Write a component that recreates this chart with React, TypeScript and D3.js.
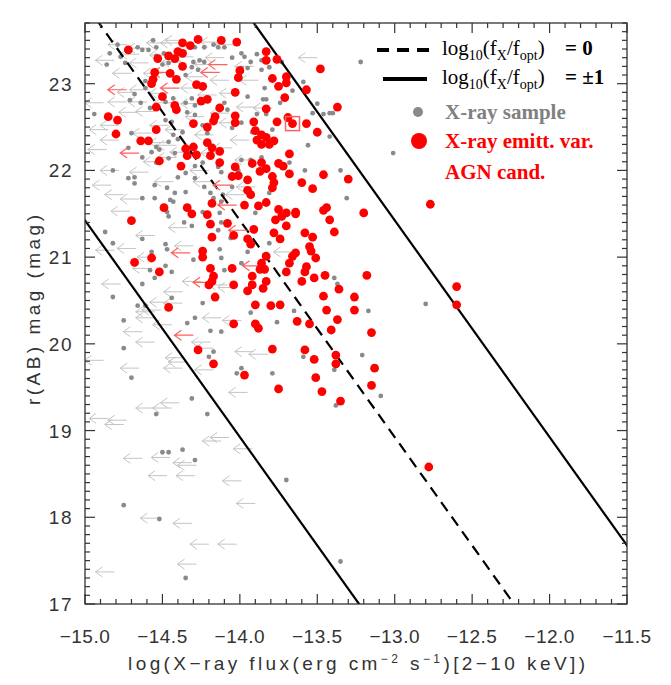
import React from 'react'
import * as d3 from 'd3'

// r-band mag vs log 2-10 keV flux. All pairs are [log fX, r(AB)].
// Upper limits are stored at the limit value; the arrow points left from it.

const agnCandidates: [number, number][] = [
  [-14.72, 23.39], [-14.37, 23.47], [-14.32, 23.44], [-14.27, 23.51], [-14.12, 23.5], [-14.02, 23.48],
  [-14.46, 23.32], [-14.4, 23.37], [-14.37, 23.35], [-14.42, 23.29], [-14.53, 23.29], [-14.37, 23.2],
  [-14.0, 23.15], [-14.01, 23.07], [-14.55, 23.13], [-14.45, 23.12], [-14.56, 23.05], [-14.57, 23.0],
  [-14.41, 23.05], [-14.28, 22.99], [-14.24, 22.97], [-14.03, 22.9], [-14.5, 22.85], [-14.54, 22.73],
  [-14.42, 22.75], [-14.41, 22.7], [-14.25, 22.8], [-14.21, 22.82], [-14.13, 22.72], [-14.16, 22.62],
  [-14.17, 22.57], [-14.21, 22.5], [-14.3, 22.54], [-14.85, 22.62], [-14.79, 22.58], [-14.8, 22.42],
  [-14.03, 22.63], [-14.03, 22.55], [-14.54, 22.47], [-14.64, 22.34], [-14.59, 22.34], [-14.35, 22.25],
  [-14.3, 22.27], [-14.34, 22.17], [-14.28, 22.18], [-14.21, 22.32], [-14.18, 22.26], [-14.19, 22.17],
  [-14.13, 22.22], [-14.52, 22.11], [-14.38, 22.05], [-14.13, 22.09], [-14.03, 22.04], [-13.92, 22.08],
  [-14.05, 21.93], [-14.01, 21.94], [-13.95, 21.89], [-13.95, 21.77], [-13.93, 21.72],
  [-14.49, 21.57], [-14.34, 21.57], [-14.31, 21.5], [-14.7, 21.42], [-14.18, 21.62], [-14.21, 21.49],
  [-14.19, 21.38], [-14.08, 21.39], [-14.18, 21.23], [-13.97, 21.6], [-14.04, 21.25], [-13.95, 21.21],
  [-13.93, 21.15], [-14.24, 21.07], [-14.24, 21.0], [-14.68, 20.94], [-14.57, 20.99], [-14.52, 20.83],
  [-14.19, 20.87], [-14.05, 20.87], [-14.17, 20.78], [-14.18, 20.72], [-14.2, 20.68], [-14.04, 20.68],
  [-13.92, 20.78], [-13.92, 20.68], [-13.95, 20.61], [-14.16, 20.54], [-14.46, 20.42], [-13.9, 20.45],
  [-14.04, 20.23], [-14.27, 19.93], [-14.17, 19.77], [-13.97, 19.64],
  [-13.83, 23.37], [-13.83, 23.27], [-13.76, 23.28], [-13.48, 23.17], [-13.79, 23.06], [-13.7, 23.08],
  [-13.7, 23.01], [-13.75, 22.97], [-13.57, 22.93], [-13.71, 22.84], [-13.37, 22.73], [-13.83, 22.71],
  [-13.69, 22.61], [-13.66, 22.54], [-13.76, 22.56], [-13.57, 22.54], [-13.91, 22.56], [-13.9, 22.46],
  [-13.5, 22.44], [-13.86, 22.41], [-13.83, 22.38], [-13.78, 22.34], [-13.89, 22.35], [-13.86, 22.3],
  [-13.81, 22.3], [-13.68, 22.19], [-13.86, 22.09], [-13.83, 22.02], [-13.75, 22.08], [-13.72, 22.05],
  [-13.87, 21.99], [-13.68, 21.96], [-13.46, 21.95], [-13.3, 21.9], [-13.79, 21.93], [-13.78, 21.86],
  [-13.79, 21.8], [-13.6, 21.86], [-13.53, 21.79],
  [-13.88, 21.59], [-13.83, 21.63], [-13.75, 21.55], [-13.7, 21.51], [-13.73, 21.47], [-13.77, 21.43],
  [-13.64, 21.52], [-13.64, 21.5], [-13.46, 21.54], [-13.44, 21.57], [-13.42, 21.43], [-13.2, 21.51],
  [-13.7, 21.36], [-13.91, 21.32], [-13.78, 21.28], [-13.74, 21.21], [-13.58, 21.28], [-13.53, 21.23],
  [-13.39, 21.29], [-13.55, 21.12], [-13.54, 21.07], [-13.64, 21.05], [-13.66, 21.01], [-13.51, 20.99],
  [-13.83, 21.01], [-13.68, 20.93], [-13.86, 20.93], [-13.57, 20.89], [-13.58, 20.83], [-13.87, 20.86],
  [-13.84, 20.86], [-13.7, 20.83], [-13.45, 20.79], [-13.18, 20.79], [-13.52, 20.76], [-13.6, 20.72],
  [-13.83, 20.72], [-13.85, 20.64], [-13.36, 20.63], [-13.46, 20.55], [-13.26, 20.54], [-13.8, 20.44],
  [-13.74, 20.45], [-13.44, 20.39], [-13.26, 20.39], [-13.37, 20.28], [-13.63, 20.26], [-13.55, 20.23],
  [-13.9, 20.23], [-13.88, 20.18], [-13.41, 20.16], [-13.15, 20.13], [-13.79, 19.94], [-13.58, 19.93],
  [-13.38, 19.87], [-13.52, 19.82], [-13.38, 19.77], [-13.13, 19.72],
  [-13.75, 19.48], [-13.51, 19.61], [-13.47, 19.45], [-13.35, 19.34], [-13.15, 19.52],
  [-12.77, 21.61], [-12.6, 20.66], [-12.6, 20.45], [-12.78, 18.58],
]

const agnUpperLimits: [number, number][] = [
  [-14.73, 22.93], [-14.39, 22.95], [-14.13, 23.13], [-14.08, 23.22], [-14.44, 23.13], [-14.65, 22.2],
  [-14.05, 21.83], [-14.32, 21.05], [-14.18, 20.71], [-14.3, 20.1], [-14.02, 21.6], [-13.95, 21.31],
  [-13.86, 20.9],
]

const highlighted: [number, number][] = [[-13.66, 22.54]]

const xraySample: [number, number][] = [
  [-14.84, 23.35], [-14.79, 23.45], [-14.77, 23.31], [-14.74, 23.24], [-14.86, 23.22], [-14.66, 23.42],
  [-14.63, 23.39], [-14.59, 23.39], [-14.56, 23.5], [-14.54, 23.42], [-14.54, 23.32], [-14.5, 23.22],
  [-14.49, 23.35], [-14.29, 23.42], [-14.23, 23.42], [-14.17, 23.45], [-14.14, 23.42], [-14.1, 23.42],
  [-13.99, 23.35], [-13.97, 23.31], [-14.05, 23.3], [-14.23, 23.25], [-14.26, 23.27], [-14.3, 23.25],
  [-14.31, 23.19], [-14.27, 23.16], [-14.35, 23.1], [-14.46, 23.24], [-13.93, 23.25], [-13.95, 23.18],
  [-13.99, 23.18], [-14.61, 23.03], [-14.61, 22.95], [-14.68, 22.88], [-14.71, 22.81], [-14.64, 22.78],
  [-14.58, 22.72], [-14.48, 22.79], [-14.35, 22.78], [-14.31, 22.83], [-14.29, 22.75], [-14.34, 22.67],
  [-14.29, 22.64], [-14.43, 22.83], [-14.1, 22.78], [-14.08, 22.7], [-13.95, 22.85], [-14.05, 22.49],
  [-13.99, 22.55], [-13.92, 22.44], [-14.24, 22.52], [-14.21, 22.43], [-14.48, 22.58], [-14.44, 22.56],
  [-14.37, 22.44], [-14.43, 22.41], [-14.4, 22.36], [-14.54, 22.27], [-14.52, 22.24], [-14.46, 22.33],
  [-14.63, 22.15], [-14.57, 22.21], [-14.54, 22.09], [-14.72, 22.26], [-14.7, 22.43], [-14.94, 22.65],
  [-14.14, 22.04], [-14.12, 21.98], [-14.24, 22.09], [-14.29, 22.05], [-14.35, 21.97], [-14.4, 21.92],
  [-14.29, 21.91], [-14.68, 21.92], [-14.72, 21.91], [-14.68, 21.85], [-14.82, 22.0], [-14.55, 21.83],
  [-14.47, 21.8], [-14.42, 21.74], [-14.35, 21.75], [-14.23, 21.81], [-14.19, 21.74], [-14.11, 21.72],
  [-14.01, 22.0], [-13.99, 22.12], [-13.93, 22.12], [-14.35, 22.24], [-14.46, 22.14], [-14.42, 22.2],
  [-14.05, 21.81],
  [-13.22, 23.25], [-13.01, 22.2], [-13.42, 22.39], [-13.56, 22.29], [-13.35, 22.0], [-13.58, 22.0],
  [-13.31, 21.68], [-13.59, 23.02], [-13.66, 22.92], [-13.5, 22.77], [-13.53, 22.66], [-13.46, 22.65],
  [-13.42, 22.66], [-13.4, 22.66], [-13.84, 22.95], [-13.85, 22.82], [-13.83, 22.82], [-13.74, 22.78],
  [-13.89, 22.65], [-13.83, 22.65], [-13.79, 22.47], [-13.68, 22.09], [-13.86, 22.15], [-13.81, 21.74],
  [-13.89, 23.34], [-13.86, 23.27], [-13.86, 23.16], [-13.81, 23.19], [-13.73, 23.25],
  [-14.63, 21.68], [-14.55, 21.68], [-14.45, 21.66], [-14.43, 21.64], [-14.47, 21.52], [-14.46, 21.47],
  [-14.36, 21.4], [-14.31, 21.36], [-14.24, 21.52], [-14.17, 21.68], [-14.12, 21.64], [-14.13, 21.51],
  [-14.12, 21.4], [-14.14, 21.31], [-14.06, 21.22], [-13.95, 21.06], [-13.99, 20.93], [-14.87, 21.29],
  [-14.63, 21.21], [-14.82, 21.16], [-14.48, 21.15], [-14.47, 21.09], [-14.57, 21.06], [-14.3, 20.97],
  [-14.13, 21.09], [-14.12, 20.99], [-14.48, 20.9], [-14.55, 20.76], [-14.44, 20.83], [-14.63, 20.69],
  [-14.82, 20.54], [-14.66, 20.44], [-14.61, 20.44], [-14.44, 20.53], [-14.24, 20.47], [-14.75, 20.27],
  [-14.34, 20.24], [-14.29, 20.3], [-14.19, 20.15], [-14.12, 20.14], [-13.93, 20.36], [-14.75, 19.95],
  [-14.17, 19.91], [-14.2, 19.85], [-13.99, 19.72], [-14.02, 19.66], [-13.93, 20.7], [-14.1, 20.85],
  [-13.81, 21.16], [-14.58, 20.85],
  [-13.9, 21.51], [-13.39, 20.76], [-13.37, 20.69], [-13.65, 20.38], [-13.17, 20.38], [-13.76, 20.25],
  [-13.21, 19.87], [-13.59, 19.85], [-13.39, 19.7], [-13.79, 19.66],
  [-14.7, 19.61], [-14.31, 19.37], [-14.54, 19.19], [-14.21, 19.19], [-13.38, 19.29], [-13.09, 19.4],
  [-14.5, 18.75], [-14.46, 18.75], [-14.37, 18.78], [-14.29, 18.66], [-14.75, 18.14], [-14.52, 17.98],
  [-13.7, 18.43], [-13.35, 17.49], [-14.35, 17.3], [-12.8, 20.46],
]

const xrayUpperLimits: [number, number][] = [
  [-14.73, 23.45], [-14.6, 23.41], [-14.48, 23.47], [-14.39, 23.47], [-14.36, 23.5], [-14.13, 23.48],
  [-14.04, 23.45], [-14.65, 23.34], [-14.46, 23.33], [-14.3, 23.31], [-14.1, 23.3], [-14.59, 23.24],
  [-14.38, 23.25], [-14.17, 23.22], [-13.91, 23.2], [-14.7, 23.12], [-14.5, 23.12], [-14.23, 23.08],
  [-13.88, 23.04], [-14.67, 22.9], [-14.59, 22.93], [-14.46, 22.89], [-14.15, 22.87], [-14.01, 22.89],
  [-14.88, 22.78], [-14.73, 22.79], [-14.6, 22.79], [-14.43, 22.78], [-14.26, 22.77], [-13.9, 22.73],
  [-14.66, 22.67], [-14.55, 22.68], [-14.23, 22.62], [-14.07, 22.66], [-14.01, 22.55], [-14.78, 22.52],
  [-14.46, 22.52], [-14.36, 22.47], [-14.57, 22.43], [-14.17, 22.41], [-14.46, 22.32], [-14.41, 22.29],
  [-14.05, 22.26], [-14.5, 22.1], [-14.41, 22.15], [-14.33, 22.21], [-14.13, 22.2], [-13.91, 22.12],
  [-14.78, 22.0], [-14.59, 21.98], [-14.2, 22.0], [-14.83, 21.83], [-14.43, 21.87], [-14.18, 21.87],
  [-13.9, 21.81], [-13.97, 21.72], [-14.86, 22.24], [-13.5, 23.3], [-13.79, 22.72], [-13.66, 21.06],
  [-14.81, 23.27], [-14.85, 22.47], [-14.78, 22.35], [-14.75, 21.72], [-14.26, 22.95], [-14.07, 23.04],
  [-13.94, 22.35],
  [-14.65, 21.67], [-14.71, 21.53], [-14.34, 21.34], [-14.55, 21.25], [-14.81, 21.08], [-14.67, 21.1],
  [-14.54, 21.0], [-14.3, 21.13], [-14.57, 20.87], [-14.77, 20.69], [-14.25, 20.72], [-14.37, 20.6],
  [-14.08, 20.68], [-14.02, 20.65], [-14.37, 20.47], [-14.46, 20.48], [-14.55, 20.37], [-14.51, 20.39],
  [-14.55, 20.3], [-14.12, 20.3], [-13.99, 20.27], [-14.44, 20.22], [-14.63, 20.14], [-14.55, 20.02],
  [-14.19, 20.02], [-14.17, 19.95], [-13.91, 19.91], [-13.82, 19.88], [-14.36, 19.84], [-14.34, 19.79],
  [-14.88, 19.81], [-14.65, 19.72], [-14.37, 19.72], [-14.17, 19.7],
  [-14.55, 19.26], [-14.44, 19.26], [-14.39, 19.32], [-14.85, 19.14], [-14.75, 19.07], [-14.73, 19.12],
  [-14.12, 18.88], [-14.07, 18.92], [-13.92, 18.79], [-14.63, 18.68], [-14.45, 18.69], [-14.31, 18.63],
  [-14.28, 18.6], [-14.47, 18.48], [-14.29, 18.48], [-13.99, 18.42], [-13.9, 18.16], [-14.52, 17.99],
  [-14.31, 17.93], [-14.2, 17.69], [-14.02, 17.69], [-14.28, 17.46], [-14.81, 17.37], [-13.95, 19.44],
]

// log(fX/fopt) = log fX + r/2.5 + C
const FX_FOPT_CONST = 5.43
const ratioLines = [
  { level: 0, dash: '11,7' },
  { level: 1, dash: null },
  { level: -1, dash: null },
]

const xTickLabels = [-15.0, -14.5, -14.0, -13.5, -13.0, -12.5, -12.0, -11.5]
const yTickLabels = [17, 18, 19, 20, 21, 22, 23]

const W = 671
const H = 685
const X0 = 85, X1 = 627, Y0 = 604, Y1 = 23

const GRAY = '#8a8a8a'
const ARROW_GRAY = '#c4c4c4'
const RED = '#ff0000'
const ARROW_RED = '#ff6060'
const ARROW_LEN = 19

const sans = '"Liberation Sans", Arial, sans-serif'
const serif = '"Liberation Serif", "Times New Roman", serif'

function Arrow({ x, y, color, width }: { x: number; y: number; color: string; width: number }) {
  const tip = x - ARROW_LEN
  return (
    <path
      d={`M${x},${y}H${tip}M${tip + 7},${y - 5}L${tip},${y}L${tip + 7},${y + 5}`}
      fill="none" stroke={color} strokeWidth={width}
    />
  )
}

export default function App() {
  const xScale = d3.scaleLinear().domain([-15, -11.5]).range([X0, X1])
  const yScale = d3.scaleLinear().domain([17, 23.7]).range([Y0, Y1])
  const fmt = d3.format('.1f')

  const xMinor = d3.range(0, 36).map(i => ({ v: -15 + i * 0.1, major: i % 5 === 0 }))
  const yMinor = d3.range(0, 68).map(i => ({ v: 17 + i * 0.1, major: i % 10 === 0 }))

  const line = d3.line<[number, number]>().x(d => xScale(d[0])).y(d => yScale(d[1]))
  const rAt = (level: number, lx: number) => 2.5 * (level - lx - FX_FOPT_CONST)

  return (
    <svg width={W} height={H} style={{ position: 'absolute', left: 0, top: 0, background: '#fff' }}>
      <defs>
        <clipPath id="plot">
          <rect x={X0} y={Y1} width={X1 - X0} height={Y0 - Y1} />
        </clipPath>
      </defs>

      <g clipPath="url(#plot)">
        {xrayUpperLimits.map((d, i) => (
          <Arrow key={'ga' + i} x={xScale(d[0])} y={yScale(d[1])} color={ARROW_GRAY} width={1} />
        ))}
        {xraySample.map((d, i) => (
          <circle key={'gd' + i} cx={xScale(d[0])} cy={yScale(d[1])} r={2.4} fill={GRAY} />
        ))}
        {ratioLines.map(l => (
          <path
            key={'l' + l.level}
            d={line([[-15.2, rAt(l.level, -15.2)], [-11.3, rAt(l.level, -11.3)]]) || ''}
            fill="none" stroke="#000" strokeWidth={2.2}
            strokeDasharray={l.dash || undefined}
          />
        ))}
        {agnUpperLimits.map((d, i) => (
          <Arrow key={'ra' + i} x={xScale(d[0])} y={yScale(d[1])} color={ARROW_RED} width={1.2} />
        ))}
        {agnCandidates.map((d, i) => (
          <circle key={'rd' + i} cx={xScale(d[0])} cy={yScale(d[1])} r={4.4} fill={RED} />
        ))}
        {highlighted.map((d, i) => (
          <rect key={'sq' + i} x={xScale(d[0]) - 7} y={yScale(d[1]) - 7} width={14} height={14}
            fill="none" stroke={ARROW_RED} strokeWidth={1.5} />
        ))}
      </g>

      {/* frame and ticks, IDL style: inward on all four sides */}
      <rect x={X0} y={Y1} width={X1 - X0} height={Y0 - Y1} fill="none" stroke="#333" strokeWidth={1.3} />
      {xMinor.map((t, i) => {
        const x = xScale(t.v)
        const len = t.major ? 10 : 5
        return (
          <g key={'xt' + i} stroke="#333" strokeWidth={1.2}>
            <line x1={x} x2={x} y1={Y0} y2={Y0 - len} />
            <line x1={x} x2={x} y1={Y1} y2={Y1 + len} />
          </g>
        )
      })}
      {yMinor.map((t, i) => {
        const y = yScale(t.v)
        const len = t.major ? 10 : 5
        return (
          <g key={'yt' + i} stroke="#333" strokeWidth={1.2}>
            <line x1={X0} x2={X0 + len} y1={y} y2={y} />
            <line x1={X1} x2={X1 - len} y1={y} y2={y} />
          </g>
        )
      })}

      <g fontFamily={sans} fontSize={19} fill="#333">
        {xTickLabels.map(v => (
          <text key={'xl' + v} x={xScale(v)} y={643} textAnchor="middle" letterSpacing={0.5}>{fmt(v)}</text>
        ))}
        {yTickLabels.map(v => (
          <text key={'yl' + v} x={73} y={yScale(v) + 7} textAnchor="end" letterSpacing={1.5}>{v}</text>
        ))}
        <text x={128} y={670} textLength={457} lengthAdjust="spacing">
          log(X−ray flux(erg cm<tspan dy={-7} fontSize={12}>−2</tspan>
          <tspan dy={7}> s</tspan><tspan dy={-7} fontSize={12}>−1</tspan>
          <tspan dy={7}>)[2−10 keV])</tspan>
        </text>
        <text transform={`translate(40,405) rotate(-90)`} textLength={190} lengthAdjust="spacing">
          r(AB) mag (mag)
        </text>
      </g>

      {/* legend */}
      <g fontFamily={serif} fontSize={21}>
        <line x1={377} x2={430} y1={50} y2={50} stroke="#000" strokeWidth={4} strokeDasharray="12,8" />
        <text x={442} y={55} fill="#000">
          log<tspan fontSize={14} dy={5}>10</tspan><tspan dy={-5}>(f</tspan>
          <tspan fontSize={14} dy={5}>X</tspan><tspan dy={-5}>/f</tspan>
          <tspan fontSize={14} dy={5}>opt</tspan><tspan dy={-5}>)</tspan>
        </text>
        <text x={565} y={55} fill="#000" fontWeight="bold">= 0</text>

        <line x1={383} x2={427} y1={79} y2={79} stroke="#000" strokeWidth={4} />
        <text x={442} y={84} fill="#000">
          log<tspan fontSize={14} dy={5}>10</tspan><tspan dy={-5}>(f</tspan>
          <tspan fontSize={14} dy={5}>X</tspan><tspan dy={-5}>/f</tspan>
          <tspan fontSize={14} dy={5}>opt</tspan><tspan dy={-5}>)</tspan>
        </text>
        <text x={565} y={84} fill="#000" fontWeight="bold">= ±1</text>

        <circle cx={418} cy={112} r={5} fill={GRAY} />
        <text x={445} y={119} fill="#808080" fontWeight="bold">X-ray sample</text>
        <circle cx={419} cy={141} r={8} fill={RED} />
        <text x={445} y={148} fill={RED} fontWeight="bold">X-ray emitt. var.</text>
        <text x={445} y={179} fill={RED} fontWeight="bold">AGN cand.</text>
      </g>
    </svg>
  )
}
